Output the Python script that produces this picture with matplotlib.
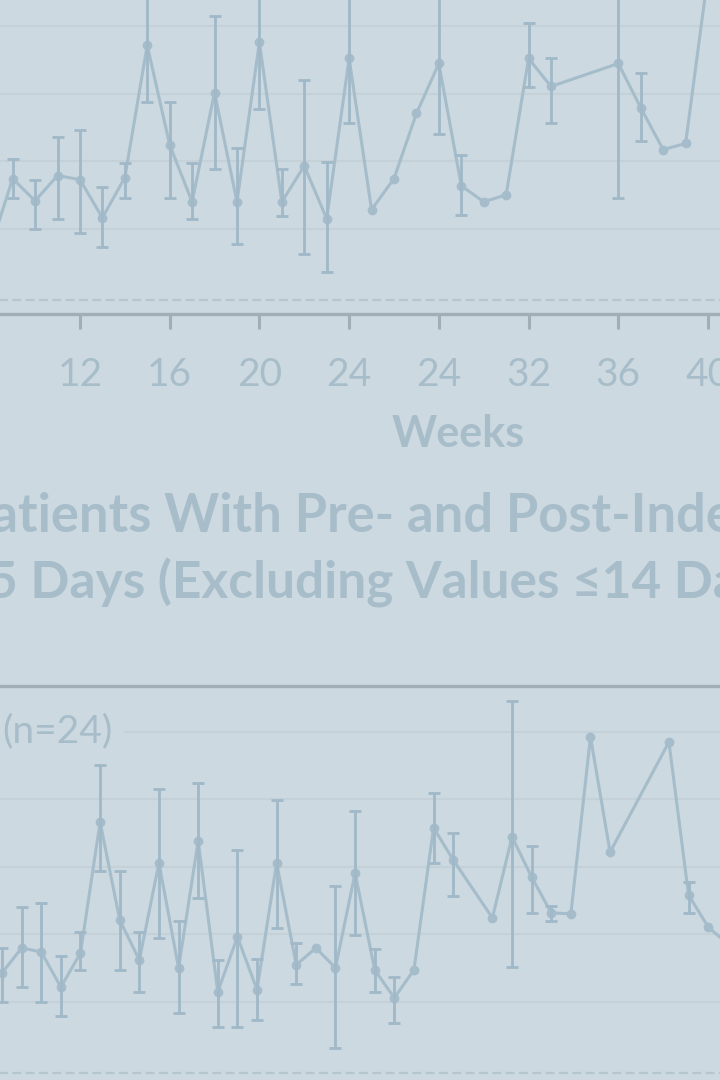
import numpy as np
import matplotlib
matplotlib.use('Agg')
import matplotlib.pyplot as plt

plt.rcParams['font.family'] = ['Lato', 'DejaVu Sans']

# ---------------- data ----------------
# upper panel (weeks)
top_weeks = [8, 9, 10, 11, 12, 13, 14, 15, 16, 17, 18, 19, 20, 21, 22, 23, 24,
             25, 26, 27, 28, 29, 30, 31, 32, 33, 36, 37, 38, 39, 40]
top_vals = [14.1, 34.9, 28.3, 35.8, 34.6, 23.3, 35.2, 74.4, 44.9, 28.0, 60.4, 28.0, 75.3, 28.0, 38.7, 23.0, 70.5,
            25.7, 34.9, 54.2, 69.0, 32.8, 28.0, 30.1, 70.5, 62.2, 69.0, 55.9, 43.5, 45.3, 95.4]
nan = np.nan
top_low = [nan, 29.2, 20.0, 23.0, 18.9, 14.7, 29.2, 57.7, 29.2, 23.0, 37.8, 15.5, 55.6, 23.9, 12.6, 7.2, 51.5,
           nan, nan, nan, 48.2, 24.2, nan, nan, 61.9, 51.5, 29.2, 46.1, nan, nan, nan]
top_high = [nan, 40.8, 34.6, 47.3, 49.4, 32.5, 39.6, 100, 57.7, 39.6, 83.0, 44.1, 100, 37.8, 64.0, 39.9, 100,
            nan, nan, nan, 100, 42.0, nan, nan, 80.9, 70.5, 100, 66.3, nan, nan, nan]
top_tick_weeks = [12, 16, 20, 24, 28, 32, 36, 40]
top_tick_labels = ['12', '16', '20', '24', '24', '32', '36', '40']

# lower panel
bottom_weeks = [0, 1, 2, 3, 4, 5, 6, 7, 8, 9, 10, 11, 12, 13, 14, 15, 16, 17, 18, 19, 20, 21, 22, 23,
                25, 26, 27, 28, 29, 30, 31, 34, 35, 36, 37]
bottom_vals = [28.6, 36.0, 34.8, 24.4, 34.5, 73.3, 44.3, 32.4, 61.2, 30.1, 67.7, 23.0, 39.3, 23.6, 61.2, 31.0,
               36.0, 30.1, 58.2, 29.5, 21.2, 29.5, 71.6, 62.1,
               44.9, 68.9, 57.0, 46.4, 46.1, 98.5, 64.4, 97.0, 51.7, 42.2, 37.2]
bottom_low = [20.0, 24.4, 20.0, 15.9, 29.5, 58.8, 29.5, 23.0, 39.0, 16.7, 50.8, 12.6, 12.6, 14.7, 41.9, 25.3,
              nan, 6.4, 39.9, 23.0, 13.8, nan, 61.2, 51.4,
              nan, 30.4, 46.4, 44.0, nan, nan, nan, nan, 46.4, nan, nan]
bottom_high = [36.0, 48.1, 49.3, 33.6, 40.7, 90.2, 58.8, 40.7, 83.1, 44.0, 84.9, 32.4, 65.0, 32.7, 79.9, 37.5,
               nan, 54.4, 76.6, 35.7, 27.4, nan, 81.9, 70.1,
               nan, 109.2, 66.2, 48.4, nan, nan, nan, nan, 55.6, nan, nan]

title_line1 = 'Patients With Pre- and Post-Index'
title_line2 = '5 Days (Excluding Values \u226414 Days)'

# ---------------- style ----------------
bg = '#cdd9e0'
line_col = '#a5bccb'
err_col = '#a0b8c7'
text_col = '#a8bdca'
spine_col = '#a2adb5'
grid_col = '#c5d1d8'
dash_col = '#b6c6cf'
BASELINE = -1

fig = plt.figure(figsize=(7.2, 10.8), dpi=100, facecolor=bg)


def draw_panel(ax, x, vals, low, high):
    ax.set_facecolor(bg)
    x = np.array(x, dtype=float)
    vals = np.array(vals)
    low = np.array(low)
    high = np.array(high)
    ax.plot(x, vals, '-o', color=line_col, lw=2.2, ms=6, zorder=3)
    m = ~np.isnan(low)
    ax.errorbar(x[m], vals[m], yerr=[vals[m] - low[m], high[m] - vals[m]], fmt='none',
                ecolor=err_col, elinewidth=2, capsize=4, capthick=2, zorder=4)
    ax.axhline(BASELINE, color=dash_col, lw=1.6, ls=(0, (4, 2)), zorder=1)
    ax.set_ylim(-5.2, 113.6)
    ax.set_yticks([20, 40, 60, 80, 100])
    ax.grid(axis='y', color=grid_col, lw=1.5)
    ax.set_axisbelow(True)
    for s in ['left', 'right']:
        ax.spines[s].set_visible(False)
    for s in ['top', 'bottom']:
        ax.spines[s].set_color(spine_col)
        ax.spines[s].set_linewidth(2.4)
    ax.tick_params(axis='y', left=False, labelleft=False)
    ax.tick_params(axis='x', colors=spine_col, length=11, width=2.2, pad=20,
                   labelsize=28, labelcolor=text_col)


# upper panel
ax1 = fig.add_axes([-200 / 720, 0.7093, 1120 / 720, 0.3713])
draw_panel(ax1, top_weeks, top_vals, top_low, top_high)
ax1.set_xlim(-0.48, 49.45)
ax1.set_xticks(top_tick_weeks)
ax1.set_xticklabels(top_tick_labels)
fig.text(458 / 720, 1 - 447 / 1080, 'Weeks', ha='center', va='baseline',
         fontsize=31, fontweight='bold', color=text_col)

# title between the panels
fig.text(-41 / 720, 1 - 532 / 1080, title_line1, ha='left', va='baseline',
         fontsize=37.8, fontweight='bold', color=text_col)
fig.text(-12 / 720, 1 - 598 / 1080, title_line2, ha='left', va='baseline',
         fontsize=37, fontweight='bold', color=text_col)

# lower panel
ax2 = fig.add_axes([-200 / 720, -0.0065, 1120 / 720, 0.3713])
draw_panel(ax2, bottom_weeks, bottom_vals, bottom_low, bottom_high)
ax2.set_xlim(-10.3, 46.8)
ax2.set_xticks([])
fig.text(2 / 720, 1 - 742 / 1080, '(n=24)', ha='left', va='baseline', fontsize=28,
         color=text_col, bbox=dict(facecolor=bg, edgecolor='none', pad=8), zorder=5)

fig.savefig('out.png', dpi=100, facecolor=bg)
